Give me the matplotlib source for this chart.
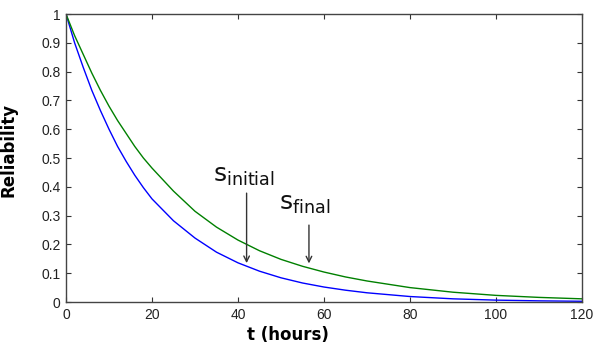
import matplotlib
matplotlib.use("Agg")
import matplotlib.pyplot as plt

# Sample times (hours) and reliability of the two designs
t_hours = [0, 2, 4, 6, 8, 10, 12, 14, 16, 18, 20, 25, 30, 35, 40, 45, 50,
           55, 60, 65, 70, 80, 90, 100, 110, 120]
r_initial = [1.00, 0.90, 0.815, 0.735, 0.665, 0.60, 0.54, 0.488, 0.44,
             0.397, 0.358, 0.282, 0.222, 0.173, 0.136, 0.107, 0.084, 0.066,
             0.052, 0.041, 0.032, 0.019, 0.011, 0.0065, 0.004, 0.0025]
r_final = [1.00, 0.925, 0.86, 0.795, 0.735, 0.68, 0.63, 0.585, 0.54, 0.50,
           0.465, 0.385, 0.315, 0.26, 0.215, 0.178, 0.148, 0.124, 0.104,
           0.087, 0.073, 0.050, 0.034, 0.023, 0.016, 0.011]

x_ticks = [0, 20, 40, 60, 80, 100, 120]
y_ticks = [0, 0.1, 0.2, 0.3, 0.4, 0.5, 0.6, 0.7, 0.8, 0.9, 1]
y_tick_labels = ["0", "0.1", "0.2", "0.3", "0.4", "0.5", "0.6", "0.7",
                 "0.8", "0.9", "1"]

fig = plt.figure(figsize=(5.97, 3.47), dpi=100)
ax = fig.add_axes([66 / 597, 45 / 347, 516 / 597, 288 / 347])

ax.plot(t_hours, r_initial, color="#0000ff", lw=1.0)
ax.plot(t_hours, r_final, color="#008000", lw=1.0)

ax.set_xlim(0, 120)
ax.set_ylim(0, 1)
ax.set_xticks(x_ticks)
ax.set_yticks(y_ticks)
ax.set_yticklabels(y_tick_labels)

for lab in ax.get_xticklabels() + ax.get_yticklabels():
    lab.set_fontfamily("Liberation Sans")
    lab.set_fontsize(10)
    lab.set_color("#222222")

ax.tick_params(direction="in", length=3.5, width=0.8, color="#333333",
               top=True, right=True, pad=4)
for sp in ax.spines.values():
    sp.set_color("#444444")
    sp.set_linewidth(1.0)

ax.set_xlabel("t (hours)", fontsize=12, fontweight="bold",
              family="DejaVu Sans")
ax.xaxis.set_label_coords((288 - 66) / 516, -(326 - 302) / 288)
ax.set_ylabel("Reliability", fontsize=12, fontweight="bold",
              family="DejaVu Sans")
ax.yaxis.set_label_coords(-(66 - 18) / 516, (302 - 150) / 288)

# Arrows pointing at the two curves
arrow = dict(arrowstyle="->", color="#333333", lw=1.0, shrinkA=0, shrinkB=0)
ax.annotate("", xy=(42, 0.135), xytext=(42, 0.378), arrowprops=arrow)
ax.annotate("", xy=(56.5, 0.134), xytext=(56.5, 0.267), arrowprops=arrow)

ax.text(34.2, 0.418, r"$\mathregular{s_{initial}}$", fontsize=18,
        family="DejaVu Sans", color="#111111", va="baseline", ha="left")
ax.text(49.6, 0.32, r"$\mathregular{s_{final}}$", fontsize=18,
        family="DejaVu Sans", color="#111111", va="baseline", ha="left")

fig.savefig("out.png", dpi=100)
